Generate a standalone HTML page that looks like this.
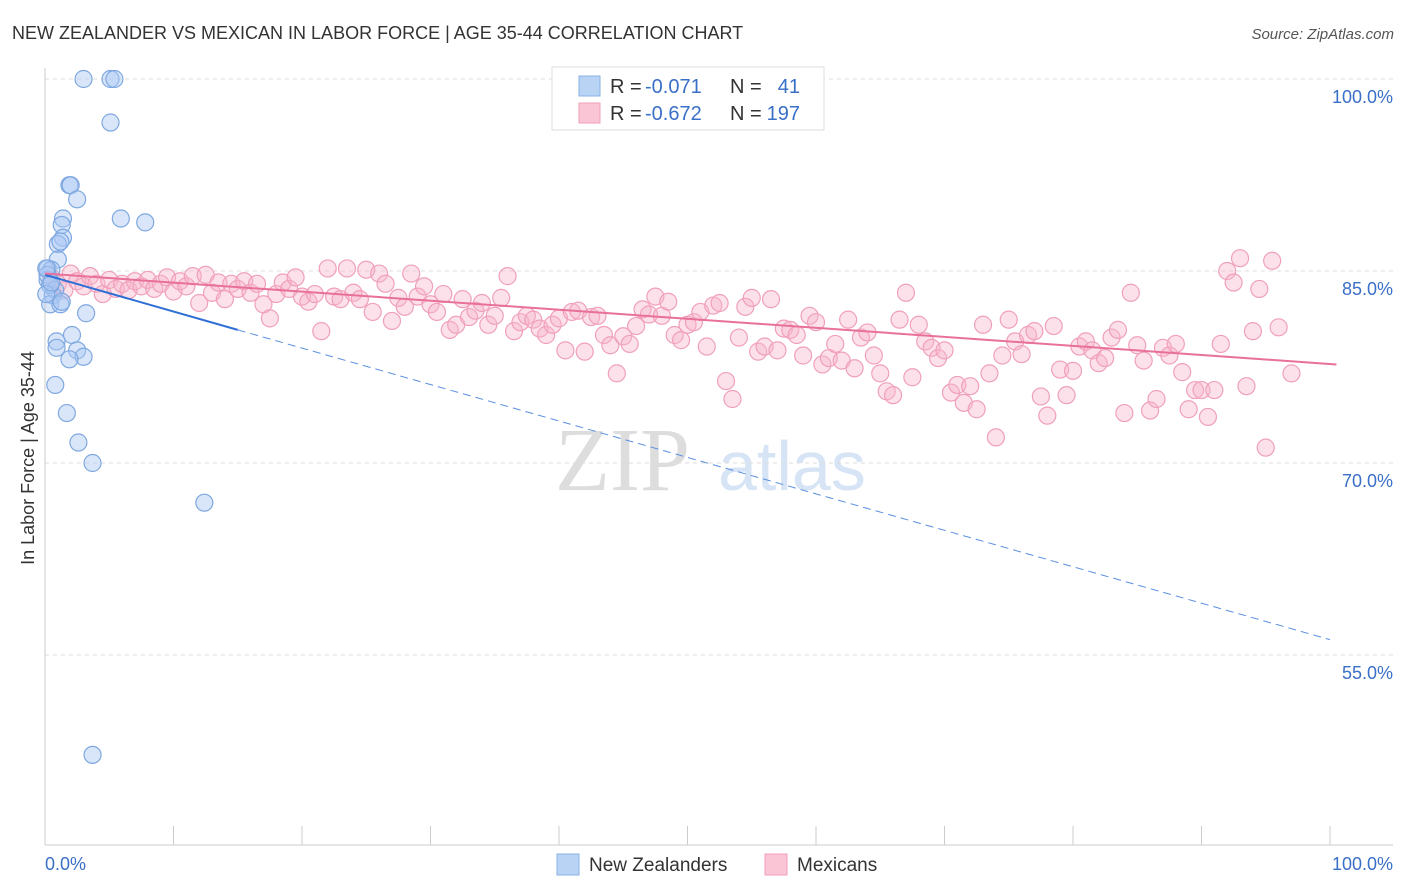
<!DOCTYPE html>
<html><head><meta charset="utf-8"><style>
body{margin:0;background:#fff;font-family:"Liberation Sans",sans-serif;}
svg{display:block}
</style></head><body>
<svg id="chart" width="1406" height="892">
<text x="12" y="39" font-size="18" fill="#333">NEW ZEALANDER VS MEXICAN IN LABOR FORCE | AGE 35-44 CORRELATION CHART</text>
<text x="1394" y="39" font-size="15" fill="#555" font-style="italic" text-anchor="end">Source: ZipAtlas.com</text>
<text x="34" y="458" font-size="18" fill="#333" text-anchor="middle" transform="rotate(-90 34 458)">In Labor Force | Age 35-44</text>
<text x="555" y="490" font-size="90" fill="#ddd" font-family="Liberation Serif">ZIP</text>
<text x="718" y="490" font-size="70" fill="#d6e4f5">atlas</text>
<g id="grid"></g><g id="marks"></g>
<g>
<rect x="552" y="67" width="272" height="63" fill="#fff" stroke="#ddd"/>
<rect x="579" y="76" width="21" height="20" fill="#b9d3f5" stroke="#8ab0e6"/>
<rect x="579" y="103" width="21" height="20" fill="#fac5d5" stroke="#f0a0ba"/>
<text x="610" y="93" font-size="20" fill="#333">R =</text>
<text x="645" y="93" font-size="20" fill="#3a6fc8">-0.071</text>
<text x="730" y="93" font-size="20" fill="#333">N =</text>
<text x="800" y="93" font-size="20" fill="#3a6fc8" text-anchor="end">41</text>
<text x="610" y="120" font-size="20" fill="#333">R =</text>
<text x="645" y="120" font-size="20" fill="#3a6fc8">-0.672</text>
<text x="730" y="120" font-size="20" fill="#333">N =</text>
<text x="800" y="120" font-size="20" fill="#3a6fc8" text-anchor="end">197</text>
</g>
<g>
<rect x="557" y="854" width="22" height="21" fill="#b9d3f5" stroke="#8ab0e6"/>
<text x="589" y="871" font-size="19" fill="#333">New Zealanders</text>
<rect x="765" y="854" width="22" height="21" fill="#fac5d5" stroke="#f0a0ba"/>
<text x="797" y="871" font-size="19" fill="#333">Mexicans</text>
</g>
</svg>
<script>
const yTicks=[100,85,70,55];
const blueX=[3,5.1,5.4,5.1,1.9,2,2.5,5.9,7.8,1.4,1.3,1.4,1,1.2,1,0.2,0.5,0.2,0.8,0.6,0.4,1.2,1.3,3.2,2.1,0.9,0.9,2.5,3,1.9,0.8,1.7,2.6,3.7,12.4,3.7,0.2,0.4,0.1,0.5,0.1];
const blueY=[100,100,100,96.6,91.7,91.7,90.6,89.1,88.8,89.1,88.6,87.6,87.1,87.3,85.9,85.2,85.1,84.3,83.5,83.1,82.4,82.4,82.6,81.7,80,79.5,79,78.8,78.3,78.1,76.1,73.9,71.6,70,66.9,47.2,84.7,83.9,83.2,84.1,85.2];
const pink=[[0.5,84.5],[1,84],[1.5,83.5],[2,84.8],[2.5,84.2],[3,83.8],[3.5,84.6],[4,84],[4.5,83.2],[5,84.3],[5.5,83.6],[6,84],[6.5,83.5],[7,84.2],[7.5,83.8],[8,84.3],[8.5,83.6],[9,84],[9.5,84.5],[10,83.4],[10.5,84.2],[11,83.8],[11.5,84.6],[12,82.5],[12.5,84.7],[13,83.3],[13.5,84.1],[14,82.8],[14.5,84],[15,83.6],[15.5,84.2],[16,83.3],[16.5,84],[17,82.4],[17.5,81.3],[18,83.2],[18.5,84.1],[19,83.6],[19.5,84.5],[20,83],[20.5,82.6],[21,83.2],[21.5,80.3],[22,85.2],[22.5,83],[23,82.8],[23.5,85.2],[24,83.3],[24.5,82.8],[25,85.1],[25.5,81.8],[26,84.8],[26.5,84],[27,81.1],[27.5,82.9],[28,82.2],[28.5,84.8],[29,83],[29.5,83.8],[30,82.4],[30.5,81.8],[31,83.2],[31.5,80.4],[32,80.8],[32.5,82.8],[33,81.4],[33.5,81.9],[34,82.5],[34.5,80.8],[35,81.5],[35.5,82.9],[36,84.6],[36.5,80.3],[37,81],[37.5,81.5],[38,81.2],[38.5,80.5],[39,80],[39.5,80.8],[40,81.3],[40.5,78.8],[41,81.8],[41.5,81.9],[42,78.7],[42.5,81.4],[43,81.5],[43.5,80],[44,79.2],[44.5,77],[45,79.9],[45.5,79.3],[46,80.7],[46.5,82],[47,81.6],[47.5,83],[48,81.5],[48.5,82.6],[49,80],[49.5,79.6],[50,80.8],[50.5,81],[51,81.8],[51.5,79.1],[52,82.3],[52.5,82.5],[53,76.4],[53.5,75],[54,79.8],[54.5,82.2],[55,82.9],[55.5,78.7],[56,79.1],[56.5,82.8],[57,78.8],[57.5,80.5],[58,80.4],[58.5,80],[59,78.4],[59.5,81.5],[60,81],[60.5,77.7],[61,78.2],[61.5,79.3],[62,78],[62.5,81.2],[63,77.4],[63.5,79.8],[64,80.2],[64.5,78.4],[65,77],[65.5,75.6],[66,75.3],[66.5,81.2],[67,83.3],[67.5,76.7],[68,80.8],[68.5,79.5],[69,79],[69.5,78.2],[70,78.8],[70.5,75.5],[71,76.1],[71.5,74.7],[72,76],[72.5,74.2],[73,80.8],[73.5,77],[74,72],[74.5,78.4],[75,81.2],[75.5,79.5],[76,78.5],[76.5,80],[77,80.3],[77.5,75.2],[78,73.7],[78.5,80.7],[79,77.3],[79.5,75.3],[80,77.2],[80.5,79.1],[81,79.5],[81.5,78.8],[82,77.8],[82.5,78.2],[83,79.8],[83.5,80.4],[84,73.9],[84.5,83.3],[85,79.2],[85.5,78],[86,74.1],[86.5,75],[87,79],[87.5,78.4],[88,79.3],[88.5,77.1],[89,74.2],[89.5,75.7],[90,75.7],[90.5,73.6],[91,75.7],[91.5,79.3],[92,85],[92.5,84.1],[93,86],[93.5,76],[94,80.3],[94.5,83.6],[95,71.2],[95.5,85.8],[96,80.6],[97,77]];
const blueTrend=[84.7,80.4,56.2];
const pinkTrend=[84.8,77.7];
const NS='http://www.w3.org/2000/svg';
const X=v=>45+v*12.85, Y=v=>79+(100-v)*12.8;
function mk(t,a,p){const e=document.createElementNS(NS,t);for(const k in a)e.setAttribute(k,a[k]);p.appendChild(e);return e;}
const g=document.getElementById('grid'), m=document.getElementById('marks');
yTicks.forEach(t=>{const l=mk('line',{x1:45,x2:1393,y1:Y(t),y2:Y(t),stroke:'#ddd','stroke-dasharray':'4,4'},g);


const tx=mk('text',{x:1393,y:Y(t)+24,'font-size':18,fill:'#3a6fc8','text-anchor':'end'},g);tx.textContent=t.toFixed(1)+'%';

});
mk('line',{x1:45,x2:45,y1:68,y2:845,stroke:'#ccc'},g);
mk('line',{x1:45,x2:1393,y1:845,y2:845,stroke:'#ccc'},g);
for(let i=0;i<=10;i++){const t=mk('line',{x1:X(i*10),x2:X(i*10),y1:826,y2:845,stroke:'#ccc'},g);

}
const x0=mk('text',{x:45,y:870,'font-size':18,fill:'#3a6fc8'},g);x0.textContent='0.0%';


const x1=mk('text',{x:1393,y:870,'font-size':18,fill:'#3a6fc8','text-anchor':'end'},g);x1.textContent='100.0%';


pink.forEach(p=>{const c=mk('circle',{cx:X(p[0]),cy:Y(p[1]),r:8.5,fill:'rgba(248,180,202,0.4)',stroke:'#f0a0ba','stroke-width':1.2},m);

});
blueX.forEach((v,i)=>{const c=mk('circle',{cx:X(v),cy:Y(blueY[i]),r:8.5,fill:'rgba(170,200,245,0.45)',stroke:'#7fa8e0','stroke-width':1.2},m);

});
const bt=mk('line',{x1:X(0),y1:Y(blueTrend[0]),x2:X(15),y2:Y(blueTrend[1]),stroke:'#2f6fd6','stroke-width':2},m);


const bd=mk('line',{x1:X(15),y1:Y(blueTrend[1]),x2:X(100),y2:Y(blueTrend[2]),stroke:'#5b8fe0','stroke-width':1,'stroke-dasharray':'8,5'},m);


const pt=mk('line',{x1:X(0),y1:Y(pinkTrend[0]),x2:X(100.5),y2:Y(pinkTrend[1]),stroke:'#e8709a','stroke-width':2},m);


</script>
</body></html>
